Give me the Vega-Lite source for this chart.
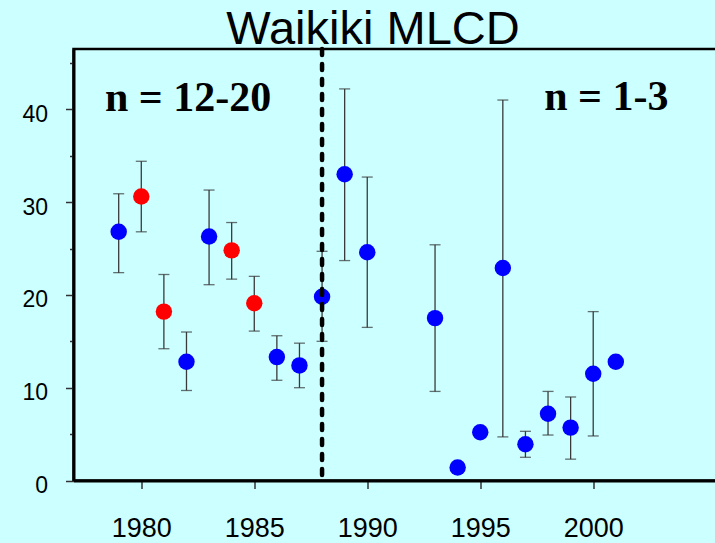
{
  "$schema": "https://vega.github.io/schema/vega-lite/v6.json",
  "autosize": "none",
  "padding": {"left": 73.5, "top": 49, "right": 0, "bottom": 62.5},
  "width": 644,
  "height": 431.5,
  "background": "#CCFFFF",
  "title": {
    "text": "Waikiki MLCD",
    "font": "Liberation Sans",
    "fontSize": 47,
    "fontWeight": "normal",
    "color": "black",
    "anchor": "middle",
    "frame": "group",
    "baseline": "alphabetic",
    "offset": 4,
    "dx": -22.5,
    "dy": 48
  },
  "config": {
    "view": {"stroke": "black", "strokeWidth": 2.5, "fill": "#CCFFFF"}
  },
  "datasets": {
    "counts": [
      {"year": 1979, "mean": 26.8, "lo": 22.4, "hi": 30.9, "group": "blue"},
      {"year": 1980, "mean": 30.6, "lo": 26.8, "hi": 34.4, "group": "red"},
      {"year": 1981, "mean": 18.2, "lo": 14.2, "hi": 22.2, "group": "red"},
      {"year": 1982, "mean": 12.8, "lo": 9.7, "hi": 16.0, "group": "blue"},
      {"year": 1983, "mean": 26.3, "lo": 21.1, "hi": 31.3, "group": "blue"},
      {"year": 1984, "mean": 24.8, "lo": 21.7, "hi": 27.8, "group": "red"},
      {"year": 1985, "mean": 19.1, "lo": 16.1, "hi": 22.0, "group": "red"},
      {"year": 1986, "mean": 13.3, "lo": 10.8, "hi": 15.6, "group": "blue"},
      {"year": 1987, "mean": 12.4, "lo": 10.0, "hi": 14.8, "group": "blue"},
      {"year": 1988, "mean": 19.8, "lo": 15.0, "hi": 24.7, "group": "blue"},
      {"year": 1989, "mean": 33.0, "lo": 23.7, "hi": 42.2, "group": "blue"},
      {"year": 1990, "mean": 24.6, "lo": 16.5, "hi": 32.7, "group": "blue"},
      {"year": 1993, "mean": 17.5, "lo": 9.6, "hi": 25.4, "group": "blue"},
      {"year": 1994, "mean": 1.4, "lo": null, "hi": null, "group": "blue"},
      {"year": 1995, "mean": 5.2, "lo": null, "hi": null, "group": "blue"},
      {"year": 1996, "mean": 22.9, "lo": 4.7, "hi": 41.0, "group": "blue"},
      {"year": 1997, "mean": 3.9, "lo": 2.5, "hi": 5.3, "group": "blue"},
      {"year": 1998, "mean": 7.2, "lo": 4.9, "hi": 9.6, "group": "blue"},
      {"year": 1999, "mean": 5.7, "lo": 2.3, "hi": 9.0, "group": "blue"},
      {"year": 2000, "mean": 11.5, "lo": 4.8, "hi": 18.2, "group": "blue"},
      {"year": 2001, "mean": 12.8, "lo": null, "hi": null, "group": "blue"}
    ],
    "labels": [
      {"year": 1982.07, "value": 39.86, "label": "n = 12-20"},
      {"year": 2000.58, "value": 39.97, "label": "n = 1-3"}
    ],
    "divider": [{"year": 1988}]
  },
  "data": {"name": "counts"},
  "encoding": {
    "x": {
      "field": "year", "type": "quantitative",
      "scale": {"domain": [1977, 2005.5], "nice": false, "zero": false},
      "axis": {
        "values": [1980, 1985, 1990, 1995, 2000],
        "format": "d",
        "grid": false,
        "title": null,
        "domainColor": "black",
        "domainWidth": 3,
        "tickColor": "#333333",
        "tickWidth": 1.5,
        "tickSize": 8,
        "labelFont": "Liberation Sans",
        "labelFontSize": 27,
        "labelColor": "black",
        "labelPadding": 27,
        "labelFlush": false,
        "labelOverlap": false
      }
    }
  },
  "resolve": {"axis": {"y": "independent"}},
  "layer": [
    {
      "transform": [{"filter": "isValid(datum.lo)"}],
      "mark": {"type": "rule", "color": "#3a3a3a", "strokeWidth": 1.3},
      "encoding": {
        "y": {
          "field": "lo", "type": "quantitative",
          "scale": {"domain": [0, 46.5], "nice": false, "zero": false},
          "axis": {
            "orient": "left",
            "values": [5, 15, 25, 35, 45],
            "labels": false,
            "domain": false,
            "grid": false,
            "title": null,
            "tickSize": 4,
            "tickWidth": 1.5,
            "tickColor": "#333333"
          }
        },
        "y2": {"field": "hi"}
      }
    },
    {
      "transform": [{"filter": "isValid(datum.lo)"}],
      "mark": {"type": "tick", "orient": "horizontal", "color": "#333333", "size": 11, "thickness": 1.3},
      "encoding": {
        "y": {"field": "hi", "type": "quantitative", "scale": {"domain": [0, 46.5], "nice": false, "zero": false}, "axis": null}
      }
    },
    {
      "transform": [{"filter": "isValid(datum.lo)"}],
      "mark": {"type": "tick", "orient": "horizontal", "color": "#333333", "size": 11, "thickness": 1.3},
      "encoding": {
        "y": {"field": "lo", "type": "quantitative", "scale": {"domain": [0, 46.5], "nice": false, "zero": false}, "axis": null}
      }
    },
    {
      "mark": {"type": "circle", "size": 270, "opacity": 1},
      "encoding": {
        "y": {
          "field": "mean", "type": "quantitative",
          "scale": {"domain": [0, 46.5], "nice": false, "zero": false},
          "axis": {
            "orient": "left",
            "values": [0, 10, 20, 30, 40],
            "grid": false,
            "title": null,
            "domainColor": "black",
            "domainWidth": 3,
            "tickColor": "#333333",
            "tickWidth": 1.5,
            "tickSize": 8,
            "labelFont": "Liberation Sans",
            "labelFontSize": 23,
            "labelColor": "black",
            "labelPadding": 18,
            "labelOffset": 5,
            "labelFlush": false,
            "labelOverlap": false
          }
        },
        "color": {
          "field": "group", "type": "nominal",
          "scale": {"domain": ["blue", "red"], "range": ["#0000FF", "#FF0000"]},
          "legend": null
        }
      }
    },
    {
      "data": {"name": "labels"},
      "mark": {"type": "text", "font": "Liberation Serif", "fontWeight": "bold", "fontSize": 42, "align": "center", "baseline": "alphabetic", "color": "black"},
      "encoding": {
        "y": {"field": "value", "type": "quantitative", "scale": {"domain": [0, 46.5], "nice": false, "zero": false}, "axis": null},
        "text": {"field": "label"}
      }
    },
    {
      "data": {"name": "divider"},
      "mark": {"type": "rule", "color": "black", "strokeWidth": 4.5, "strokeDash": [6, 9], "strokeCap": "round"},
      "encoding": {}
    }
  ]
}
